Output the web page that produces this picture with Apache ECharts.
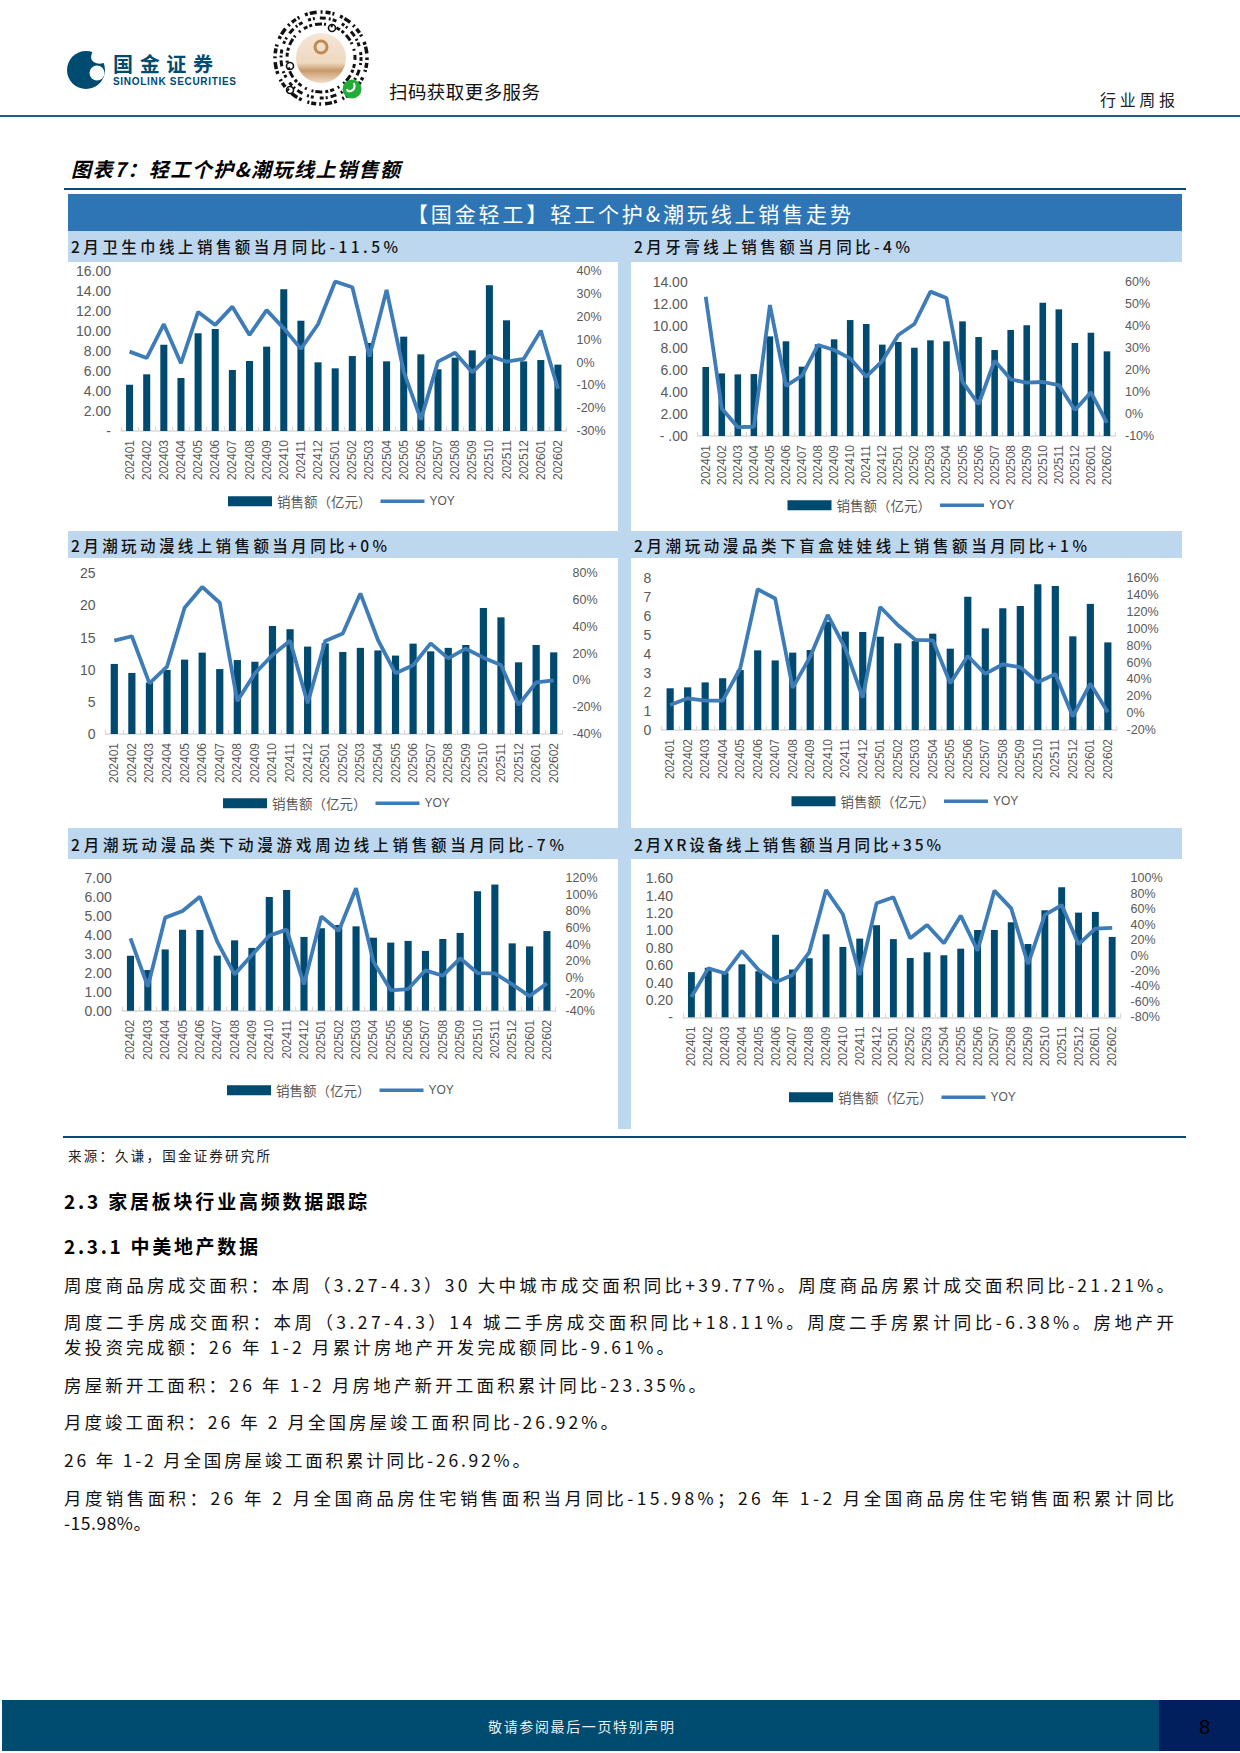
<!DOCTYPE html>
<html><head><meta charset="utf-8">
<script src="https://cdn.jsdelivr.net/npm/echarts@6/dist/echarts.min.js"></script>
<style>
html,body{margin:0;padding:0;background:#fff;width:1240px;height:1753px;overflow:hidden}
#page{position:relative;width:1240px;height:1753px}
.box{position:absolute}
.t{position:absolute;white-space:nowrap;line-height:1;transform:translateY(-50%);font-family:"Noto Sans CJK SC","Noto Sans",sans-serif;color:#111}
#chart{position:absolute;left:0;top:0;width:1240px;height:1753px}
</style></head>
<body><div id="page">
<svg class="box" style="left:0;top:0" width="420" height="115" viewBox="0 0 420 115">
  <circle cx="86" cy="70" r="19" fill="#004B70"/>
  <path d="M93 51 Q88 60 96 63 Q100 65 106 62 L110 51 Z" fill="#fff"/>
  <circle cx="97" cy="73" r="7.5" fill="#fff"/>
  <path d="M104 80 Q99 84 97 90 L110 90 Z" fill="#fff"/>
  <g fill="none" stroke="#111" stroke-linecap="butt">
    <circle cx="321" cy="58" r="46" stroke-width="3.5" stroke-dasharray="2 3 5 2 2 6 3 2 7 4"/>
    <circle cx="321" cy="58" r="40" stroke-width="3" stroke-dasharray="3 2 2 5 6 3 2 2 4 6"/>
    <circle cx="321" cy="58" r="34" stroke-width="3" stroke-dasharray="2 4 4 2 3 3 7 2 2 5"/>
    <circle cx="290" cy="66" r="3.5" stroke-width="1.6"/>
    <circle cx="290" cy="90" r="3.5" stroke-width="1.6"/>
    <circle cx="332" cy="28" r="3.5" stroke-width="1.6"/>
  </g>
  <defs><linearGradient id="qr" x1="0" y1="0" x2="0" y2="1"><stop offset="0" stop-color="#F6E6D6"/><stop offset="0.6" stop-color="#EED8C0"/><stop offset="0.75" stop-color="#C99A6B"/><stop offset="1" stop-color="#F0DCC8"/></linearGradient></defs>
  <circle cx="321" cy="58" r="25" fill="url(#qr)"/>
  <circle cx="321" cy="47" r="6" fill="none" stroke="#C08A55" stroke-width="3"/>
  <circle cx="352" cy="89" r="9.5" fill="#22AC38"/>
  <path d="M354 83 Q356 89 351 91 Q347 92 347 89" fill="none" stroke="#fff" stroke-width="2"/>
</svg>
<div class="box" style="left:0;top:115px;width:1240px;height:1.5px;background:#1F5F85"></div>
<div class="box" style="left:64px;top:188px;width:1122px;height:1.5px;background:#004B70"></div>
<div class="box" style="left:68px;top:194px;width:1114px;height:37px;background:#2E75B6"></div>
<div class="box" style="left:68px;top:231px;width:1114px;height:898px;background:#BDD7EE"></div>
<div class="box" style="left:68px;top:262px;width:550px;height:269px;background:#fff"></div>
<div class="box" style="left:631px;top:262px;width:551px;height:269px;background:#fff"></div>
<div class="box" style="left:68px;top:558px;width:550px;height:270px;background:#fff"></div>
<div class="box" style="left:631px;top:558px;width:551px;height:270px;background:#fff"></div>
<div class="box" style="left:68px;top:859px;width:550px;height:270px;background:#fff"></div>
<div class="box" style="left:631px;top:859px;width:551px;height:270px;background:#fff"></div>
<div class="box" style="left:63px;top:1136px;width:1123px;height:1.5px;background:#004B70"></div>
<div class="box" style="left:2px;top:1700px;width:1157px;height:51px;background:#004B70"></div>
<div class="box" style="left:1159px;top:1700px;width:81px;height:51px;background:#001F5C"></div>
<div id="chart"></div>
<div id="texts"></div>
</div>
<script>
// ---- categories ----
const months26 = ['202401','202402','202403','202404','202405','202406','202407','202408','202409','202410','202411','202412','202501','202502','202503','202504','202505','202506','202507','202508','202509','202510','202511','202512','202601','202602'];
const months25 = months26.slice(1);

// ---- series values ----
const padSales = [4.64,5.68,8.65,5.31,9.79,10.22,6.11,7.01,8.45,14.2,11.05,6.88,6.28,7.51,8.82,6.98,9.45,7.68,6.18,7.35,8.08,14.6,11.09,6.98,7.11,6.65];
const padYoy = [4.8,2,16.8,-0.3,22.2,16.5,24.5,12.1,23,15,6,16.8,35.5,33,2.6,31.8,-4,-25,0.4,4.3,-4.3,3,0.4,1.6,14,-11.5];
const pasteSales = [6.26,5.68,5.59,5.62,9.04,8.59,6.29,8.32,8.77,10.52,10.16,8.29,8.53,8.01,8.68,8.59,10.4,8.98,7.8,9.62,10.04,12.1,11.49,8.44,9.37,7.68];
const pasteYoy = [53.2,2.5,-6,-5.8,49.4,12.7,17.4,31.3,29,25.2,16.9,24,35.8,40.8,55.5,52.6,14.6,4.4,24.2,15.7,14.2,14.5,13.1,1.8,9.8,-4];
const toySales = [10.9,9.5,8,9.96,11.57,12.66,10.1,11.5,11.25,16.8,16.3,13.6,14.1,12.76,13.4,13,12.2,14.06,12.86,13.4,13.85,19.6,18.15,11.15,13.85,12.7];
const toyYoy = [29.7,33,-2.2,10.3,54.3,69.8,58,-15.4,5.3,19,29.7,-17,29.5,35,65,30.2,5.3,11.3,27.7,16.5,23.7,17,11.5,-18.3,-1.4,0];
const blindSales = [2.2,2.25,2.51,2.73,3.16,4.2,3.67,4.08,4.22,5.71,5.19,5.17,4.92,4.57,4.69,5.08,4.29,7.03,5.36,6.42,6.54,7.68,7.6,4.94,6.65,4.62];
const blindYoy = [9.7,17.6,14.8,14.8,53,147,136,30,67,116.5,77,18.4,126,104.6,87,86.4,35.4,67.8,46.5,58,54.4,36.6,46.5,-4,35,1];
const animeSales = [2.91,2.15,3.24,4.28,4.27,2.91,3.72,3.32,6.01,6.38,3.9,4.36,4.53,4.46,3.86,3.6,3.69,3.16,3.79,4.11,6.31,6.67,3.56,3.4,4.21];
const animeYoy = [47.5,-11,72.5,80.5,97.8,43.4,3.9,27.3,50.7,58,-8.2,74,56.3,108,19.3,-15.4,-13.8,8.8,2.3,23.3,5.5,5.1,-8.2,-22.3,-7];
const xrSales = [0.52,0.57,0.51,0.61,0.53,0.95,0.55,0.68,0.955,0.81,0.906,1.06,0.9,0.683,0.748,0.714,0.79,1.005,1.005,1.094,0.844,1.232,1.497,1.205,1.213,0.925];
const xrYoy = [-53.7,-16.6,-23,5.9,-18.7,-34.7,-25.2,4.2,84.9,53.4,-25.2,67.6,75.4,22.3,39.6,15.8,51.6,6.3,84,61,-11,52.5,65.4,14.5,34.8,35.7];

// ---- tick labels ----
const padTicks = ['-','2.00','4.00','6.00','8.00','10.00','12.00','14.00','16.00'];
const pasteTicks = ['- .00','2.00','4.00','6.00','8.00','10.00','12.00','14.00'];
const toyTicks = ['0','5','10','15','20','25'];
const blindTicks = ['0','1','2','3','4','5','6','7','8'];
const animeTicks = ['0.00','1.00','2.00','3.00','4.00','5.00','6.00','7.00'];
const xrTicks = ['-','0.20','0.40','0.60','0.80','1.00','1.20','1.40','1.60'];

const barName = '销售额（亿元）';
const lineName = 'YOY';

// ---- panels: data + axis scales ----
const panels = [
 {cats:months26,sales:padSales,yoy:padYoy,ticks:padTicks,lInt:2,rMin:-30,rMax:40,rInt:10},
 {cats:months26,sales:pasteSales,yoy:pasteYoy,ticks:pasteTicks,lInt:2,rMin:-10,rMax:60,rInt:10},
 {cats:months26,sales:toySales,yoy:toyYoy,ticks:toyTicks,lInt:5,rMin:-40,rMax:80,rInt:20},
 {cats:months26,sales:blindSales,yoy:blindYoy,ticks:blindTicks,lInt:1,rMin:-20,rMax:160,rInt:20},
 {cats:months25,sales:animeSales,yoy:animeYoy,ticks:animeTicks,lInt:1,rMin:-40,rMax:120,rInt:20},
 {cats:months26,sales:xrSales,yoy:xrYoy,ticks:xrTicks,lInt:0.2,rMin:-80,rMax:100,rInt:20}
];
// ---- layout, kept apart from the data ----
const layouts = [
 {x0:121,x1:566.5,y0:271.3,y1:431,lx:228,ly:504.5},
 {x0:697.7,x1:1115,y0:281.7,y1:436,lx:787.5,ly:508.5},
 {x0:105.5,x1:562.5,y0:573.3,y1:734,lx:223,ly:806.5},
 {x0:661.4,x1:1116.6,y0:578.3,y1:730,lx:791.5,ly:804.5},
 {x0:121.8,x1:555.6,y0:878.3,y1:1010.7,lx:227,ly:1093.5},
 {x0:683,x1:1120.6,y0:878.3,y1:1017.3,lx:789,ly:1100.5}
];
const BAR='#00496F', LINE='#3E7CB8', LABEL='#595959', AXIS='#D9D9D9';
const LEGEND_LINE='path://M0 0L0 0M0 3.2L44 3.2L44 6.8L0 6.8ZM0 10L0 10';
const grid=[],xAxis=[],yAxis=[],series=[],legend=[];
panels.forEach((p,i)=>{
  const L=layouts[i];
  grid.push({left:L.x0,top:L.y0,width:L.x1-L.x0,height:L.y1-L.y0,containLabel:false});
  xAxis.push({type:'category',gridIndex:i,data:p.cats,boundaryGap:true,
    axisLine:{lineStyle:{color:AXIS,width:1.5}},
    axisTick:{show:true,inside:true,length:4,alignWithLabel:false,lineStyle:{color:AXIS,width:1.2}},
    axisLabel:{interval:0,rotate:90,margin:9,fontSize:12,color:LABEL,fontFamily:'Liberation Sans'}});
  yAxis.push({type:'value',gridIndex:i,min:0,max:p.lInt*(p.ticks.length-1),interval:p.lInt,position:'left',
    axisLine:{show:false},axisTick:{show:false},splitLine:{show:false},
    axisLabel:{margin:10,fontSize:14,color:LABEL,fontFamily:'Liberation Sans',
      formatter:(v)=>p.ticks[Math.round(v/p.lInt)]}});
  yAxis.push({type:'value',gridIndex:i,min:p.rMin,max:p.rMax,interval:p.rInt,position:'right',
    axisLine:{show:false},axisTick:{show:false},splitLine:{show:false},
    axisLabel:{margin:10,fontSize:12.5,color:LABEL,fontFamily:'Liberation Sans',formatter:'{value}%'}});
  series.push({type:'bar',name:barName,xAxisIndex:i,yAxisIndex:i*2,data:p.sales,barWidth:'41%',itemStyle:{color:BAR},animation:false});
  series.push({type:'line',name:lineName,xAxisIndex:i,yAxisIndex:i*2+1,data:p.yoy,symbol:'none',smooth:false,
    lineStyle:{color:LINE,width:3.8},itemStyle:{color:LINE},animation:false,z:5});
  legend.push({left:L.lx,top:L.ly-10,height:20,padding:0,itemGap:9,itemWidth:44,itemHeight:10,
    selectedMode:false,data:[{name:barName,icon:'rect'},{name:lineName,icon:LEGEND_LINE}],
    formatter:(n)=>n===lineName?'{y|'+n+'}':'{c|'+n+'}',
    textStyle:{color:LABEL,rich:{
      c:{fontSize:13.5,color:LABEL,fontFamily:'Noto Sans CJK SC'},
      y:{fontSize:12,color:LABEL,fontFamily:'Liberation Sans'}}}});
});
const chart=echarts.init(document.getElementById('chart'),null,{renderer:'svg',width:1240,height:1753});
chart.setOption({animation:false,backgroundColor:'transparent',grid,xAxis,yAxis,series,legend});

// ---- page text: [text, left, right, centerY, size, extra css] ----
const pageTexts=[
 ['国金证券',113,213,64,20,'font-weight:700;color:#004B70'],
 ['SINOLINK SECURITIES',113,236,81.5,10,'font-weight:700;color:#004B70;font-family:"Liberation Sans"'],
 ['扫码获取更多服务',389,540,91,18.5,''],
 ['行业周报',1100,1175,99,16,'color:#222'],
 ['图表7：轻工个护&潮玩线上销售额',71,400,169,20,'font-weight:700;font-style:italic;color:#000'],
 ['【国金轻工】轻工个护&潮玩线上销售走势',407,851,213,21,'color:#fff'],
 ['2月卫生巾线上销售额当月同比-11.5%',71,398,247,15.5,'font-weight:500'],
 ['2月牙膏线上销售额当月同比-4%',634,910,247,15.5,'font-weight:500'],
 ['2月潮玩动漫线上销售额当月同比+0%',71,387,546,15.5,'font-weight:500'],
 ['2月潮玩动漫品类下盲盒娃娃线上销售额当月同比+1%',634,1087,546,15.5,'font-weight:500'],
 ['2月潮玩动漫品类下动漫游戏周边线上销售额当月同比-7%',71,564,845,15.5,'font-weight:500'],
 ['2月XR设备线上销售额当月同比+35%',634,941,845,15.5,'font-weight:500'],
 ['来源：久谦，国金证券研究所',68,270,1156,13.5,'color:#222'],
 ['2.3 家居板块行业高频数据跟踪',64,367,1200,19,'font-weight:700;color:#000'],
 ['2.3.1 中美地产数据',64,258,1244.5,19,'font-weight:700;color:#000'],
 ['周度商品房成交面积：本周（3.27-4.3）30 大中城市成交面积同比+39.77%。周度商品房累计成交面积同比-21.21%。',64,1174,1285,17.5,''],
 ['周度二手房成交面积：本周（3.27-4.3）14 城二手房成交面积同比+18.11%。周度二手房累计同比-6.38%。房地产开',64,1174,1322,17.5,''],
 ['发投资完成额：26 年 1-2 月累计房地产开发完成额同比-9.61%。',64,674,1347,17.5,''],
 ['房屋新开工面积：26 年 1-2 月房地产新开工面积累计同比-23.35%。',64,706,1385,17.5,''],
 ['月度竣工面积：26 年 2 月全国房屋竣工面积同比-26.92%。',64,618,1422,17.5,''],
 ['26 年 1-2 月全国房屋竣工面积累计同比-26.92%。',64,530,1460,17.5,''],
 ['月度销售面积：26 年 2 月全国商品房住宅销售面积当月同比-15.98%；26 年 1-2 月全国商品房住宅销售面积累计同比',64,1174,1498,17.5,''],
 ['-15.98%。',64,151,1523,17.5,''],
 ['敬请参阅最后一页特别声明',488,674,1725.5,14,'color:#E8F0F6'],
 ['8',1199,1212,1727,20,'color:#000;font-family:"Liberation Sans"']
];
const host=document.getElementById('texts');
pageTexts.forEach(([s,l,r,cy,size,css])=>{
  const d=document.createElement('div');
  d.className='t';d.textContent=s;
  d.style.cssText='left:'+l+'px;top:'+cy+'px;font-size:'+size+'px;'+css;
  host.appendChild(d);
  const n=[...s].length;
  if(n>1){const sp=(r-l-d.getBoundingClientRect().width)/(n-1);d.style.letterSpacing=sp.toFixed(3)+'px';}
});
</script>
</body></html>
